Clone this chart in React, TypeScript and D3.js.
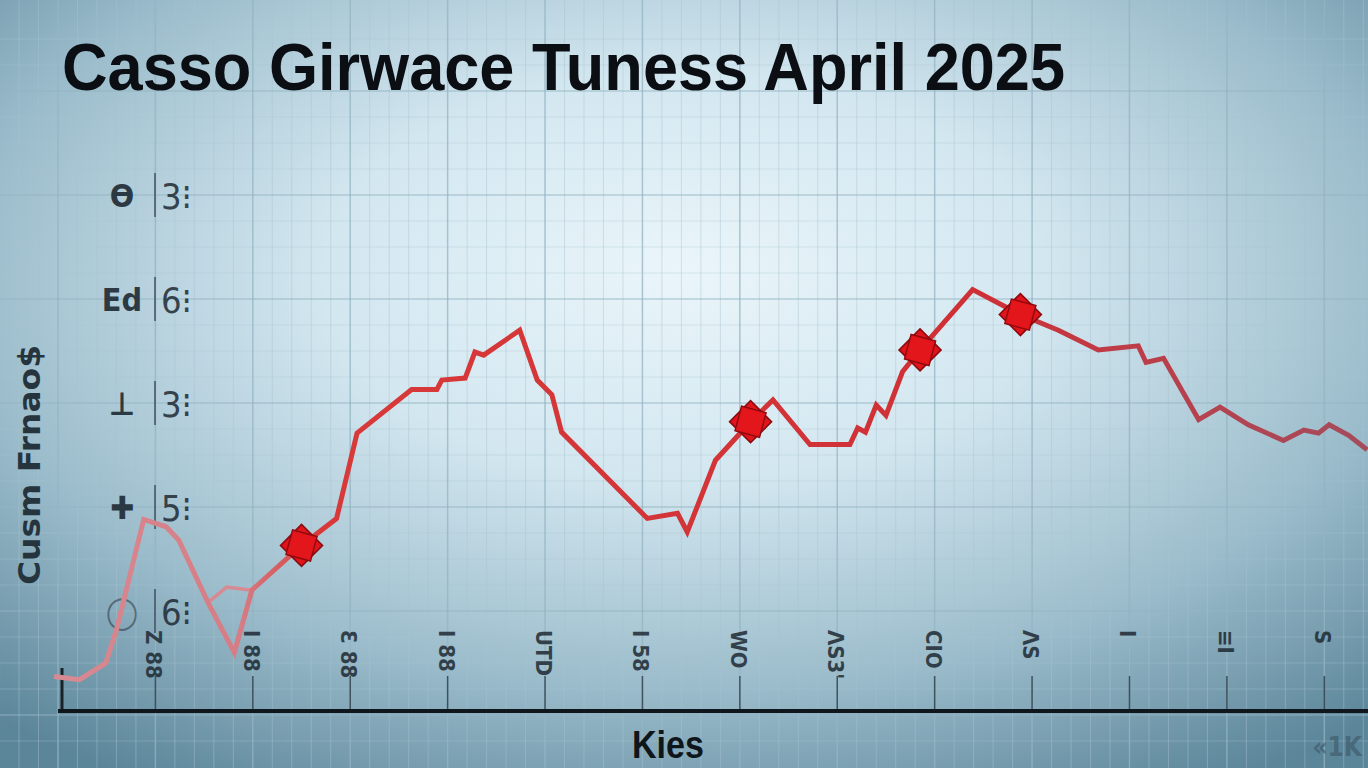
import React from "react";
import * as d3 from "d3";

// ---- data ----
const days = [-0.04, 0.22, 0.49, 0.6, 0.88, 1.11, 1.24, 1.54, 1.81, 1.99, 2.5, 2.86, 3.07, 3.63, 3.89, 3.94, 4.18, 4.28, 4.37, 4.74, 4.92, 5.07, 5.17, 6.05, 6.36, 6.46, 6.75, 7.11, 7.34, 7.72, 8.13, 8.21, 8.29, 8.4, 8.5, 8.67, 8.85, 9.39, 9.88, 10.27, 10.68, 11.09, 11.17, 11.35, 11.71, 11.93, 12.22, 12.58, 12.79, 12.94, 13.05, 13.25, 13.44];
const values = [0.37, 0.34, 0.5, 0.82, 1.88, 1.81, 1.68, 1.08, 0.6, 1.2, 1.63, 1.89, 2.71, 3.13, 3.13, 3.22, 3.24, 3.49, 3.46, 3.7, 3.22, 3.08, 2.72, 1.89, 1.94, 1.76, 2.45, 2.82, 3.03, 2.6, 2.6, 2.76, 2.72, 2.98, 2.88, 3.3, 3.51, 4.09, 3.85, 3.7, 3.51, 3.55, 3.39, 3.43, 2.84, 2.96, 2.79, 2.64, 2.74, 2.71, 2.79, 2.69, 2.55];
const branchDays = [1.54, 1.73, 1.99];
const branchValues = [1.08, 1.23, 1.2];
const markerDays = [2.5, 7.11, 8.85, 9.88];
const markerValues = [1.63, 2.82, 3.51, 3.85];
const xTickLabels = ["Z 88", "I 88", "Ɛ 88", "I 88", "UTD", "I 58", "WO", "ΛS3'", "CIO", "ΛS", "I", "≡I", "S"];
const yTickValues = [5, 4, 3, 2, 1];
const yTickLabels = ["3⁝", "6⁝", "3⁝", "5⁝", "6⁝"];
const yTickIcons = ["ϴ", "Ed", "⊥", "✚", "◯"];
const title = "Casso Girwace Tuness April  2025";
const xTitle = "Kies";
const yTitle = "Cusm Frnao$";
const cornerNote = "«1K";

const W = 1368;
const H = 768;

export default function App() {
  const x = d3.scaleLinear().domain([0, 13.5]).range([58, 1373]);
  const y = d3.scaleLinear().domain([0, 6]).range([715, 91]);
  const axisY = 711;

  const pts: [number, number][] = days.map((d, i) => [d, values[i]]);
  const bpts: [number, number][] = branchDays.map((d, i) => [d, branchValues[i]]);
  const line = d3
    .line<[number, number]>()
    .x((d) => x(d[0]))
    .y((d) => y(d[1]));

  const majorX = d3.range(0, 14);
  const minorX = d3.range(-0.6, 13.6, 0.2);
  const majorY = d3.range(0, 7, 1);
  const minorY = d3.range(-0.25, 6.75, 0.25);
  const sq = d3.symbol().type(d3.symbolSquare).size(800)();

  return (
    <svg
      width={W}
      height={H}
      style={{ position: "absolute", left: 0, top: 0, display: "block" }}
    >
      <defs>
        <radialGradient id="bg" cx="0.5" cy="0.38" r="0.75" fx="0.5" fy="0.35">
          <stop offset="0" stopColor="#eaf5fa" />
          <stop offset="0.35" stopColor="#d3e7f0" />
          <stop offset="0.7" stopColor="#9bbccb" />
          <stop offset="1" stopColor="#5b8599" />
        </radialGradient>
        <linearGradient id="lineGrad" gradientUnits="userSpaceOnUse" x1="58" y1="0" x2="1368" y2="0">
          <stop offset="0" stopColor="#d88a92" />
          <stop offset="0.14" stopColor="#d67c84" />
          <stop offset="0.2" stopColor="#d83a3a" />
          <stop offset="0.7" stopColor="#cf3036" />
          <stop offset="0.85" stopColor="#b8404c" />
          <stop offset="1" stopColor="#a44c5c" />
        </linearGradient>
      </defs>
      <rect x={0} y={0} width={W} height={H} fill="url(#bg)" />

      {/* grid */}
      <g>
        {minorX.map((v, i) => (
          <line key={"mx" + i} x1={x(v)} x2={x(v)} y1={0} y2={H} stroke="#a8c4d1" strokeOpacity={0.45} strokeWidth={1} />
        ))}
        {minorY.map((v, i) => (
          <line key={"my" + i} x1={0} x2={W} y1={y(v)} y2={y(v)} stroke="#a8c4d1" strokeOpacity={0.35} strokeWidth={1} />
        ))}
        {majorX.map((v, i) => (
          <line key={"Mx" + i} x1={x(v)} x2={x(v)} y1={0} y2={H} stroke="#8fb0bf" strokeOpacity={0.6} strokeWidth={1.5} />
        ))}
        {majorY.map((v, i) => (
          <line key={"My" + i} x1={0} x2={W} y1={y(v)} y2={y(v)} stroke="#8fb0bf" strokeOpacity={0.45} strokeWidth={1.3} />
        ))}
      </g>

      {/* title */}
      <text
        x={62}
        y={90}
        fontFamily="Liberation Sans Narrow, Liberation Sans, Arial, sans-serif"
        fontWeight="bold"
        fontSize={66}
        fill="#0b0f14"
        textLength={1003}
        lengthAdjust="spacingAndGlyphs"
      >
        {title}
      </text>

      {/* y axis labels */}
      <g fontFamily="DejaVu Sans Condensed, DejaVu Sans, sans-serif" fill="#1e2a33">
        {yTickValues.map((v, i) => (
          <g key={"yt" + i} transform={`translate(0,${y(v)})`}>
            <line x1={155} x2={155} y1={-22} y2={22} stroke="#3a4a55" strokeWidth={2} opacity={0.7} />
            <text x={122} y={12} fontSize={32} fontWeight="bold" textAnchor="middle" opacity={i === 4 ? 0.5 : 0.9}>
              {yTickIcons[i]}
            </text>
            <text x={161} y={14} fontSize={36} opacity={0.85}>
              {yTickLabels[i]}
            </text>
          </g>
        ))}
        <text
          transform={`translate(40,465) rotate(-90)`}
          fontSize={30}
          fontWeight="bold"
          textAnchor="middle"
          fill="#26343d"
          textLength={240}
          lengthAdjust="spacingAndGlyphs"
        >
          {yTitle}
        </text>
      </g>

      {/* x axis ticks */}
      <g fontFamily="DejaVu Sans Condensed, DejaVu Sans, sans-serif" fill="#1e2a33">
        <line x1={62} x2={62} y1={668} y2={axisY} stroke="#1a2228" strokeWidth={3} />
        {xTickLabels.map((lab, i) => {
          const px = x(i + 1);
          return (
            <g key={"xt" + i}>
              <line x1={px} x2={px} y1={676} y2={axisY} stroke="#2a3a44" strokeWidth={1.5} opacity={0.8} />
              <text
                transform={`translate(${px - 9},630) rotate(90)`}
                fontSize={22}
                fontWeight="bold"
                opacity={0.85}
              >
                {lab}
              </text>
            </g>
          );
        })}
        <line x1={58} x2={W} y1={axisY} y2={axisY} stroke="#10171c" strokeWidth={4} />
        <text
          x={668}
          y={758}
          fontSize={38}
          fontWeight="bold"
          textAnchor="middle"
          fill="#0f161b"
          fontFamily="Liberation Sans Narrow, Liberation Sans, sans-serif"
          textLength={72}
          lengthAdjust="spacingAndGlyphs"
        >
          {xTitle}
        </text>
        <text x={1362} y={756} fontSize={26} fontWeight="bold" textAnchor="end" fill="#3c5866" opacity={0.6}>
          {cornerNote}
        </text>
      </g>

      {/* data line */}
      <path d={line(bpts) || ""} fill="none" stroke="#d88a92" strokeWidth={3.5} strokeLinejoin="miter" />
      <path d={line(pts) || ""} fill="none" stroke="url(#lineGrad)" strokeWidth={5} strokeLinejoin="miter" />

      {/* markers */}
      {markerDays.map((d, i) => (
        <g key={"mk" + i} transform={`translate(${x(d)},${y(markerValues[i])})`}>
          <path d={sq || ""} transform="rotate(45) scale(1.05)" fill="#e0141a" stroke="#8a0a0e" strokeWidth={1.5} />
          <path d={sq || ""} transform="rotate(15) scale(0.9)" fill="#e0141a" stroke="#8a0a0e" strokeWidth={1.5} />
          <path d={sq || ""} transform="rotate(15) scale(0.78)" fill="#e3161c" stroke="none" />
        </g>
      ))}
    </svg>
  );
}
